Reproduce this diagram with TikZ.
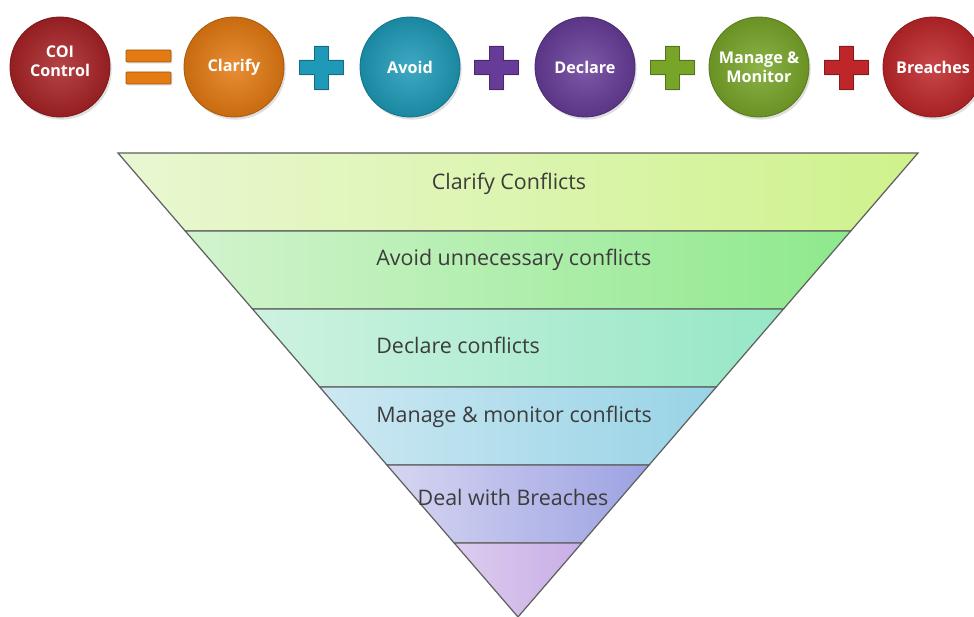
\documentclass[tikz,border=0pt]{standalone}
\usepackage{fontspec}
\setmainfont{Open Sans}
\usetikzlibrary{shadows}
\definecolor{coired}{HTML}{A82326}
\definecolor{clforange}{HTML}{E47A12}
\definecolor{avdteal}{HTML}{1E9AB8}
\definecolor{dclpurple}{HTML}{673C98}
\definecolor{mongreen}{HTML}{78A528}
\definecolor{brred}{HTML}{BE2629}
\definecolor{labelgray}{HTML}{3C3C3C}
% funnel band colours, light (left) and strong (right)
\definecolor{bandAl}{HTML}{E9F7D2}\definecolor{bandAr}{HTML}{CFF28C}
\definecolor{bandBl}{HTML}{D2F3CD}\definecolor{bandBr}{HTML}{8EE98C}
\definecolor{bandCl}{HTML}{CDF2E0}\definecolor{bandCr}{HTML}{96E7C6}
\definecolor{bandDl}{HTML}{CCE8F2}\definecolor{bandDr}{HTML}{98D3E6}
\definecolor{bandEl}{HTML}{D6D6F1}\definecolor{bandEr}{HTML}{9CA2E2}
\definecolor{bandFl}{HTML}{DCCDEE}\definecolor{bandFr}{HTML}{C8AEE6}

\begin{document}
\begin{tikzpicture}[x=0.02cm, y=-0.02cm,
  bubble/.style={circle, minimum size=2cm, inner sep=0pt, align=center,
    text=white, font=\bfseries\fontsize{9.2}{11}\selectfont,
    draw=#1!75!black, line width=0.5pt,
    shading=radial, inner color=#1!85!white, outer color=#1!88!black,
    drop shadow={opacity=0.25, shadow xshift=1pt, shadow yshift=-1.5pt}},
  band/.style 2 args={left color=#1, right color=#2, draw=gray!75!black, line width=0.7pt},
  bandtext/.style={text=labelgray, font=\fontsize{12.2}{14}\selectfont, inner sep=0pt}]
  \useasboundingbox (0,0) rectangle (974,617);

  % top row: the equation
  \node[bubble=coired] (coi) at (60,67) {COI\\Control\\[-4.5pt]};
  \node[bubble=clforange] (clarify) at (234,67) {Clarify};
  \node[bubble=avdteal] (avoid) at (410,67) {Avoid};
  \node[bubble=dclpurple] (declare) at (585,67) {Declare};
  \node[bubble=mongreen] (manage) at (759,67) {Manage \&\\Monitor};
  \node[bubble=brred] (breach) at (933,67) {Breaches};

  % equals sign
  \foreach \ey in {50,72}
    \filldraw[draw=clforange!70!black, fill=clforange, rounded corners=0.5pt,
      drop shadow={opacity=0.2, shadow xshift=0.8pt, shadow yshift=-1pt}]
      (126,\ey) rectangle (171,\ey+12);

  % plus signs
  \foreach \px/\pc in {321/avdteal, 496/dclpurple, 672/mongreen, 846/brred}
    \filldraw[draw=\pc!70!black, fill=\pc,
      drop shadow={opacity=0.2, shadow xshift=0.8pt, shadow yshift=-1pt}]
      (\px-7,46) -- (\px+7,46) -- (\px+7,60) -- (\px+22,60) -- (\px+22,74)
      -- (\px+7,74) -- (\px+7,89) -- (\px-7,89) -- (\px-7,74) -- (\px-22,74)
      -- (\px-22,60) -- (\px-7,60) -- cycle;

  % funnel bands, top to bottom
  \draw[band={bandAl}{bandAr}] (118,153) -- (918,153) -- (850.8,231) -- (185.2,231) -- cycle;
  \draw[band={bandBl}{bandBr}] (185.2,231) -- (850.8,231) -- (783.5,309) -- (252.5,309) -- cycle;
  \draw[band={bandCl}{bandCr}] (252.5,309) -- (783.5,309) -- (716.3,387) -- (319.7,387) -- cycle;
  \draw[band={bandDl}{bandDr}] (319.7,387) -- (716.3,387) -- (649.1,465) -- (386.9,465) -- cycle;
  \draw[band={bandEl}{bandEr}] (386.9,465) -- (649.1,465) -- (581.8,543) -- (454.2,543) -- cycle;
  \draw[band={bandFl}{bandFr}] (454.2,543) -- (581.8,543) -- (518,617) -- cycle;

  % band labels
  \node[bandtext] (lclarify) at (509,184) {Clarify Conflicts};
  \node[bandtext, anchor=west] (lavoid) at (376,260) {Avoid unnecessary conflicts};
  \node[bandtext, anchor=west] (ldeclare) at (376,345) {Declare conflicts};
  \node[bandtext, anchor=west] (lmanage) at (376,417) {Manage \& monitor conflicts};
  \node[bandtext] (lbreach) at (513,497) {Deal with Breaches};
\end{tikzpicture}
\end{document}
